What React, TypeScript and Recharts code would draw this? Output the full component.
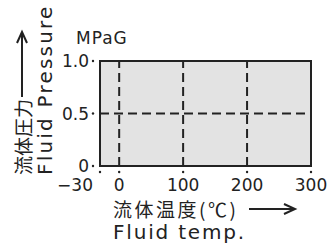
import React from 'react'
import { ComposedChart, Area, XAxis, YAxis, ReferenceLine, ReferenceArea } from 'recharts'

const tempTicks = [-30, 0, 100, 200, 300]
const tempTickLabels = ['−30', '0', '100', '200', '300']
const pressureTicks = [0, 0.5, 1.0]
const pressureTickLabels = ['0', '0.5', '1.0']
const rangeTemp = [-30, 300]
const rangePressure = [0, 1.0]
const gridTemps = [0, 100, 200]
const gridPressures = [0.5]

const data = rangeTemp.map((t) => ({ temp: t, pressure: rangePressure[1] }))

const LATIN = '"DejaVu Sans", sans-serif'
const CJK = '"Noto Sans CJK JP", sans-serif'
const INK = '#222'

function TempTick({ x, y, payload }: { x: number; y: number; payload: { value: number } }) {
  const i = tempTicks.indexOf(payload.value)
  const first = i === 0
  return (
    <g>
      <circle cx={x} cy={y + 6} r={1.2} fill={INK} />
      <text x={first ? x - 7 : x} y={y + 25} textAnchor={first ? 'end' : 'middle'} fontFamily={LATIN} fontSize={17} fill={INK}>
        {tempTickLabels[i]}
      </text>
    </g>
  )
}

function PressureTick({ x, y, payload }: { x: number; y: number; payload: { value: number } }) {
  const i = pressureTicks.indexOf(payload.value)
  return (
    <g>
      <circle cx={x - 7} cy={y} r={1.2} fill={INK} />
      <text x={x - 11} y={y + 6} textAnchor="end" fontFamily={LATIN} fontSize={17} fill={INK}>
        {pressureTickLabels[i]}
      </text>
    </g>
  )
}

function XLabel() {
  return (
    <g>
      <text x={113} y={208} dominantBaseline="central" fontFamily={CJK} fontSize={19} fill={INK} letterSpacing={2.5}>
        流体温度(℃)
      </text>
      <line x1={249} y1={209} x2={294} y2={209} stroke={INK} strokeWidth={2} />
      <path d="M284,204 L295,209 L284,214" fill="none" stroke={INK} strokeWidth={2} />
      <text x={113} y={239} fontFamily={LATIN} fontSize={20} fill={INK} letterSpacing={1.8}>
        Fluid temp.
      </text>
    </g>
  )
}

function YLabel() {
  return (
    <g>
      <text x={22} y={175} transform="rotate(-90, 22, 175)" dominantBaseline="central" fontFamily={CJK} fontSize={19} fill={INK}>
        流体圧力
      </text>
      <line x1={22} y1={97} x2={22} y2={33} stroke={INK} strokeWidth={2} />
      <path d="M17,43 L22,32 L27,43" fill="none" stroke={INK} strokeWidth={2} />
      <text x={52} y={175} transform="rotate(-90, 52, 175)" fontFamily={LATIN} fontSize={20} fill={INK} letterSpacing={2.2}>
        Fluid Pressure
      </text>
      <text x={76} y={44} fontFamily={LATIN} fontSize={17} fill={INK} letterSpacing={1}>
        MPaG
      </text>
    </g>
  )
}

export default function App() {
  return (
    <div style={{ position: 'absolute', left: 0, top: 0, background: '#fff' }}>
      <ComposedChart width={330} height={244} data={data} margin={{ top: 61, right: 19, bottom: 48, left: 0 }}>
        <XAxis
          dataKey="temp"
          type="number"
          domain={[rangeTemp[0], rangeTemp[1]]}
          ticks={tempTicks}
          interval={0}
          height={30}
          axisLine={false}
          tickLine={false}
          tickSize={0}
          tickMargin={0}
          tick={(p: any) => <TempTick {...p} />}
          label={{ content: () => <XLabel /> }}
        />
        <YAxis
          type="number"
          domain={[rangePressure[0], rangePressure[1]]}
          ticks={pressureTicks}
          interval={0}
          width={100}
          axisLine={false}
          tickLine={false}
          tickSize={0}
          tickMargin={0}
          tick={(p: any) => <PressureTick {...p} />}
          label={{ content: () => <YLabel /> }}
        />
        <Area
          dataKey="pressure"
          type="linear"
          stroke="none"
          fill="#e3e3e3"
          fillOpacity={1}
          dot={false}
          activeDot={false}
          isAnimationActive={false}
        />
        {gridTemps.map((t) => (
          <ReferenceLine key={`t${t}`} x={t} stroke={INK} strokeWidth={2} strokeDasharray="9 5" />
        ))}
        {gridPressures.map((p) => (
          <ReferenceLine key={`p${p}`} y={p} stroke={INK} strokeWidth={2} strokeDasharray="9 5" />
        ))}
        <ReferenceArea
          x1={rangeTemp[0]}
          x2={rangeTemp[1]}
          y1={rangePressure[0]}
          y2={rangePressure[1]}
          fill="none"
          stroke={INK}
          strokeWidth={2}
        />
      </ComposedChart>
    </div>
  )
}
